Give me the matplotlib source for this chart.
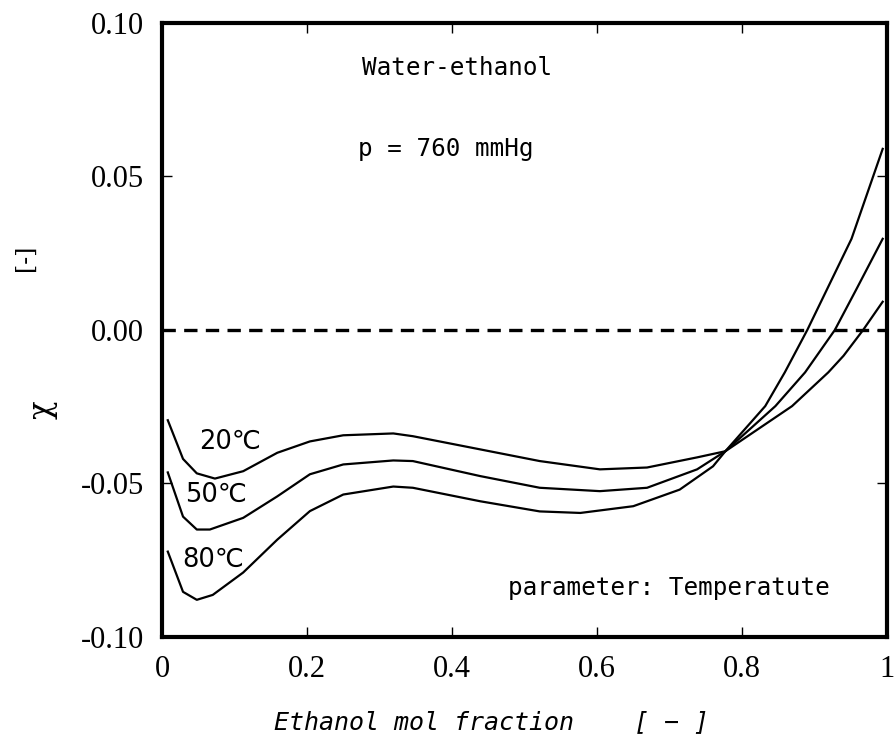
import matplotlib
matplotlib.use("Agg")
import matplotlib.pyplot as plt

# chi vs ethanol mol fraction, water-ethanol at 760 mmHg
x_20 = [0.008, 0.029, 0.048, 0.073, 0.112, 0.159, 0.204, 0.25, 0.319, 0.346, 0.439,
        0.521, 0.604, 0.669, 0.738, 0.777, 0.832, 0.859, 0.890, 0.951, 0.967, 0.994]
y_20 = [-0.0294, -0.042, -0.0467, -0.0484, -0.046, -0.040, -0.0363, -0.0343, -0.0337,
        -0.0346, -0.0389, -0.0427, -0.0454, -0.0448, -0.0415, -0.0395, -0.0248, -0.0138,
        0.0, 0.0297, 0.0406, 0.059]

x_50 = [0.008, 0.029, 0.048, 0.066, 0.112, 0.159, 0.204, 0.25, 0.319, 0.346, 0.439,
        0.521, 0.604, 0.669, 0.738, 0.777, 0.846, 0.887, 0.928, 0.958, 0.994]
y_50 = [-0.0464, -0.0608, -0.065, -0.065, -0.0612, -0.0542, -0.047, -0.0438, -0.0425,
        -0.0427, -0.0476, -0.0514, -0.0525, -0.0514, -0.0454, -0.0395, -0.0248, -0.0138,
        0.0, 0.0134, 0.0297]

x_80 = [0.008, 0.029, 0.048, 0.07, 0.112, 0.159, 0.204, 0.25, 0.319, 0.346, 0.439,
        0.521, 0.577, 0.650, 0.714, 0.760, 0.777, 0.869, 0.919, 0.94, 0.967, 0.994]
y_80 = [-0.0722, -0.0853, -0.0879, -0.0863, -0.079, -0.0683, -0.059, -0.0536, -0.051,
        -0.0514, -0.0558, -0.0591, -0.0596, -0.0574, -0.052, -0.0444, -0.0395, -0.0248,
        -0.0138, -0.0084, 0.0, 0.0092]

series = [(x_20, y_20), (x_50, y_50), (x_80, y_80)]
curve_labels = ["20℃", "50℃", "80℃"]
label_pos = [(0.051, -0.0363), (0.032, -0.0536), (0.028, -0.0748)]

x_ticks = [0, 0.2, 0.4, 0.6, 0.8, 1.0]
x_ticklabels = ["0", "0.2", "0.4", "0.6", "0.8", "1"]
y_ticks = [-0.10, -0.05, 0.0, 0.05, 0.10]
y_ticklabels = ["-0.10", "-0.05", "0.00", "0.05", "0.10"]

fig = plt.figure(figsize=(8.96, 7.47), dpi=100)
ax = fig.add_axes([0.1808, 0.1473, 0.8092, 0.8219])

for xs, ys in series:
    ax.plot(xs, ys, color="black", lw=1.6, solid_joinstyle="round")

ax.axhline(0.0, color="black", lw=2.4, ls=(0, (4, 2.5)))

for lab, (lx, ly) in zip(curve_labels, label_pos):
    ax.text(lx, ly, lab, fontsize=18.5, family=["DejaVu Sans", "Noto Sans CJK JP"],
            ha="left", va="center")

mono = "DejaVu Sans Mono"
ax.text(0.276, 0.0854, "Water-ethanol", fontsize=17.5, family=mono, va="center")
ax.text(0.271, 0.0588, "p = 760 mmHg", fontsize=17.5, family=mono, va="center")
ax.text(0.477, -0.0841, "parameter: Temperatute", fontsize=17.5, family=mono, va="center")

ax.set_xlim(0, 1)
ax.set_ylim(-0.10, 0.10)
ax.set_xticks(x_ticks)
ax.set_xticklabels(x_ticklabels)
ax.set_yticks(y_ticks)
ax.set_yticklabels(y_ticklabels)
ax.tick_params(direction="in", length=7, width=1, top=True, right=True,
               labelsize=22, pad=13)
for lbl in ax.get_xticklabels() + ax.get_yticklabels():
    lbl.set_family("Liberation Serif")
for sp in ax.spines.values():
    sp.set_linewidth(3)

fig.text(491 / 896, 1 - 722 / 747, "Ethanol mol fraction    [ − ]", fontsize=18,
         family=mono, style="italic", ha="center", va="center")
fig.text(42 / 896, 1 - 410 / 747, "χ", fontsize=22, family="DejaVu Serif",
         rotation=90, ha="center", va="center")
fig.text(25 / 896, 1 - 258 / 747, "[-]", fontsize=17, family="DejaVu Serif",
         rotation=90, ha="center", va="center")

fig.savefig("out.png", dpi=100)
